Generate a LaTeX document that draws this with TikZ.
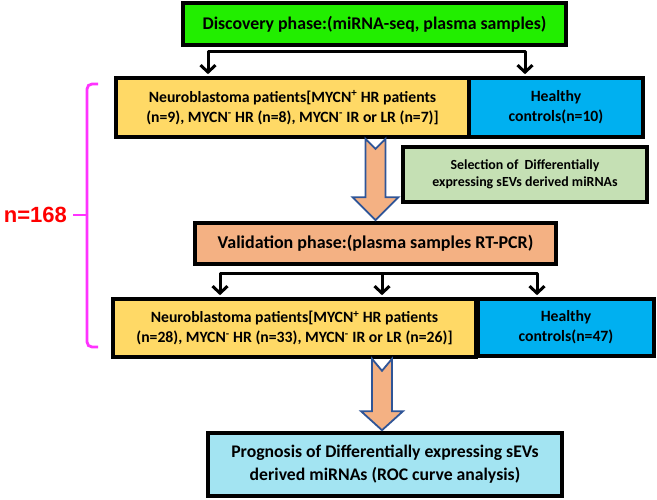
\documentclass[tikz,border=0pt]{standalone}
\usepackage{fontspec}
\setmainfont{Carlito}
\newfontfamily\arialfont{Liberation Sans}
\usetikzlibrary{arrows.meta,calc}
\definecolor{cgreen}{HTML}{22EE00}
\definecolor{cyellow}{HTML}{FFD966}
\definecolor{cblue}{HTML}{00B0F0}
\definecolor{clgreen}{HTML}{C5E0B4}
\definecolor{corange}{HTML}{F4B183}
\definecolor{ccyan}{HTML}{A3E4F2}
\definecolor{carrowline}{HTML}{2F5597}
\definecolor{cmag}{HTML}{FF33FF}
\begin{document}
\begin{tikzpicture}[x=1pt,y=-1pt,
  box/.style={draw=black, line width=3.6pt, inner sep=0pt, align=center, font=\bfseries\fontsize{15.7}{20}\selectfont},
  conn/.style={draw=black, line width=3pt, line join=round,
    {Straight Barb[length=7pt,width=15pt]}-{Straight Barb[length=7pt,width=15pt]}, shorten <=2pt, shorten >=2pt},
  arr/.style={draw=black, line width=3pt, -{Straight Barb[length=7pt,width=15pt]}, shorten >=2pt},
  fat/.style={fill=corange, draw=carrowline, line width=1.8pt, line join=miter}]
\useasboundingbox (0,0) rectangle (657,500);

\node[box, fill=cgreen, minimum width=383, minimum height=42, font=\bfseries\fontsize{17.8}{20}\selectfont] (disc) at (374.5,24) {Discovery phase:(miRNA-seq, plasma samples)};

\node[box, fill=cyellow, minimum width=353, minimum height=59] (yel1) at (292.5,107.5)
  {Neuroblastoma patients[MYCN\textsuperscript{+} HR patients\\(n=9), MYCN\textsuperscript{-} HR (n=8), MYCN\textsuperscript{-} IR or LR (n=7)]};
\node[box, fill=cblue, minimum width=174, minimum height=59] (blue1) at (556,107.5) {Healthy\\controls(n=10)};

\node[box, fill=clgreen, minimum width=244, minimum height=55, font=\bfseries\fontsize{13.9}{17}\selectfont] (sel) at (525,174.5)
  {Selection of~ Differentially\\expressing sEVs derived miRNAs};

\node[box, fill=corange, minimum width=361, minimum height=41, font=\bfseries\fontsize{18}{20}\selectfont] (val) at (375.5,243.5) {Validation phase:(plasma samples RT-PCR)};

\node[box, fill=cyellow, minimum width=363, minimum height=58] (yel2) at (294.5,328)
  {Neuroblastoma patients[MYCN\textsuperscript{+} HR patients\\(n=28), MYCN\textsuperscript{-} HR (n=33), MYCN\textsuperscript{-} IR or LR (n=26)]};
\node[box, fill=cblue, minimum width=176, minimum height=57] (blue2) at (566,327.5) {Healthy\\controls(n=47)};

\node[box, fill=ccyan, minimum width=354, minimum height=63, font=\bfseries\fontsize{17.7}{23}\selectfont] (prog) at (385,464.5)
  {Prognosis of Differentially expressing sEVs\\derived miRNAs (ROC curve analysis)};

% black connectors
\coordinate (s1) at (208,52);
\coordinate (s2) at (525,52);
\draw[conn] (s1 |- yel1.north) -- (s1) -- (s2) -- (s2 |- blue1.north);
\coordinate (t1) at (220,274);
\coordinate (t2) at (382,274);
\coordinate (t3) at (537,274);
\draw[conn] (t1 |- yel2.north) -- (t1) -- (t3) -- (t3 |- blue2.north);
\draw[arr] (t2) -- (t2 |- yel2.north);

% fat arrows
\coordinate (a1top) at (val.north |- yel1.south);
\draw[fat] let \p1=(a1top), \p2=(val.north) in
  (\x1-10pt,\y1) -- (\x1,\y1-10pt) -- (\x1+10pt,\y1) -- (\x1+10pt,\y2+24pt) -- (\x1+23pt,\y2+24pt)
  -- (\x1,\y2+1pt) -- (\x1-23pt,\y2+24pt) -- (\x1-10pt,\y2+24pt) -- cycle;
\coordinate (a2top) at (382,0 |- yel2.south);
\coordinate (a2tip) at (382,0 |- prog.north);
\draw[fat] let \p1=(a2top), \p2=(a2tip) in
  (\x1-10pt,\y1) -- (\x1,\y1-12pt) -- (\x1+10pt,\y1) -- (\x1+10pt,\y2+20pt) -- (\x1+21pt,\y2+20pt)
  -- (\x1,\y2+1pt) -- (\x1-21pt,\y2+20pt) -- (\x1-10pt,\y2+20pt) -- cycle;

% bracket
\draw[cmag, line width=2.8pt, rounded corners=5pt] (98,84) -- (87,84) -- (87,347) -- (98,347);
\coordinate (bm) at (87,215);
\node[anchor=east, text=red, font=\arialfont\bfseries\fontsize{22}{24}\selectfont, inner sep=0pt] (nlab) at (67,215) {n=168};
\draw[cmag, line width=2.8pt] (nlab.east) ++(6pt,0) -- (bm);
\end{tikzpicture}
\end{document}
